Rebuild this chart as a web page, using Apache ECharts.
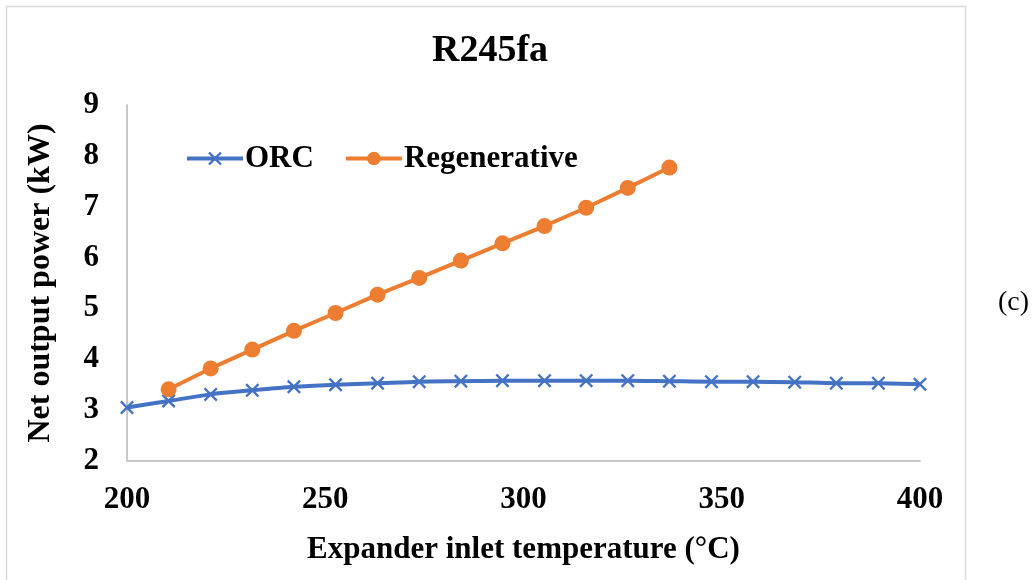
<!DOCTYPE html>
<html>
<head>
<meta charset="utf-8">
<script src="https://cdn.jsdelivr.net/npm/echarts@6/dist/echarts.min.js"></script>
<style>
html,body{margin:0;padding:0;background:#fff;}
#c{width:1036px;height:580px;}
</style>
</head>
<body>
<div id="c"></div>
<script>
// Data
var temps = [200, 210.5, 221.1, 231.6, 242.1, 252.6, 263.2, 273.7, 284.2, 294.7,
             305.3, 315.8, 326.3, 336.8, 347.4, 357.9, 368.4, 378.9, 389.5, 400];
var orcPower = [3.05, 3.18, 3.31, 3.39, 3.46, 3.50, 3.53, 3.56, 3.57, 3.58,
                3.58, 3.58, 3.58, 3.57, 3.56, 3.56, 3.55, 3.53, 3.53, 3.51];
var regenTemps = temps.slice(1, 14);
var regenPower = [3.41, 3.82, 4.19, 4.56, 4.91, 5.27, 5.60, 5.94, 6.28, 6.62, 6.98, 7.37, 7.77];
var xTicks = [200, 250, 300, 350, 400];
var yTicks = [2, 3, 4, 5, 6, 7, 8, 9];

var FONT = '"Liberation Serif","Times New Roman",serif';
var crossPath = 'path://M0,1.2L1.2,0L5,3.8L8.8,0L10,1.2L6.2,5L10,8.8L8.8,10L5,6.2L1.2,10L0,8.8L3.8,5Z';

function pairs(xs, ys) { return xs.map(function (x, i) { return [x, ys[i]]; }); }

var chart = echarts.init(document.getElementById('c'), null, { renderer: 'canvas' });
chart.setOption({
  backgroundColor: '#fff',
  animation: false,
  graphic: [
    { type: 'rect', shape: { x: 6.5, y: 6.5, width: 959, height: 600 },
      style: { fill: 'none', stroke: '#d9d9d9', lineWidth: 1.5 }, z: -1 },
    { type: 'text', left: 998, top: 289,
      style: { text: '(c)', font: '28px ' + FONT, fill: '#000' } }
  ],
  title: {
    text: 'R245fa', left: 485, top: 27, textAlign: 'center',
    textStyle: { fontFamily: FONT, fontWeight: 'bold', fontSize: 38, color: '#000' }
  },
  legend: {
    left: 180, top: 138, itemWidth: 56, itemHeight: 17, itemGap: 30,
    lineStyle: { width: 4 },
    textStyle: { fontFamily: FONT, fontWeight: 'bold', fontSize: 31, color: '#000', padding: [0, 0, 0, -3] },
    data: ['ORC', 'Regenerative']
  },
  grid: { left: 127, right: 116, top: 105, bottom: 119, containLabel: false },
  xAxis: {
    type: 'value', min: xTicks[0], max: xTicks[xTicks.length - 1], interval: 50,
    name: 'Expander inlet temperature (°C)', nameLocation: 'middle', nameGap: 73,
    nameTextStyle: { fontFamily: FONT, fontWeight: 'bold', fontSize: 31, color: '#000' },
    axisLine: { lineStyle: { color: '#c8c8c8', width: 2 } },
    axisTick: { show: false },
    splitLine: { show: false },
    axisLabel: { margin: 23, fontFamily: FONT, fontWeight: 'bold', fontSize: 31, color: '#000' }
  },
  yAxis: {
    type: 'value', min: yTicks[0], max: yTicks[yTicks.length - 1], interval: 1,
    name: 'Net output power (kW)', nameLocation: 'middle', nameGap: 70, nameRotate: 90,
    nameTextStyle: { fontFamily: FONT, fontWeight: 'bold', fontSize: 32, color: '#000' },
    axisLine: { show: true, lineStyle: { color: '#c8c8c8', width: 2 } },
    axisTick: { show: false },
    splitLine: { show: false },
    axisLabel: { margin: 28, fontFamily: FONT, fontWeight: 'bold', fontSize: 31, color: '#000' }
  },
  series: [
    {
      name: 'ORC', type: 'line', smooth: 0.3,
      data: pairs(temps, orcPower),
      symbol: crossPath, symbolSize: 14, showAllSymbol: true,
      lineStyle: { color: '#4472C4', width: 4 },
      itemStyle: { color: '#4472C4' }
    },
    {
      name: 'Regenerative', type: 'line',
      data: pairs(regenTemps, regenPower),
      symbol: 'circle', symbolSize: 16, showAllSymbol: true,
      lineStyle: { color: '#ED7D31', width: 4 },
      itemStyle: { color: '#ED7D31' }
    }
  ]
});
</script>
</body>
</html>
